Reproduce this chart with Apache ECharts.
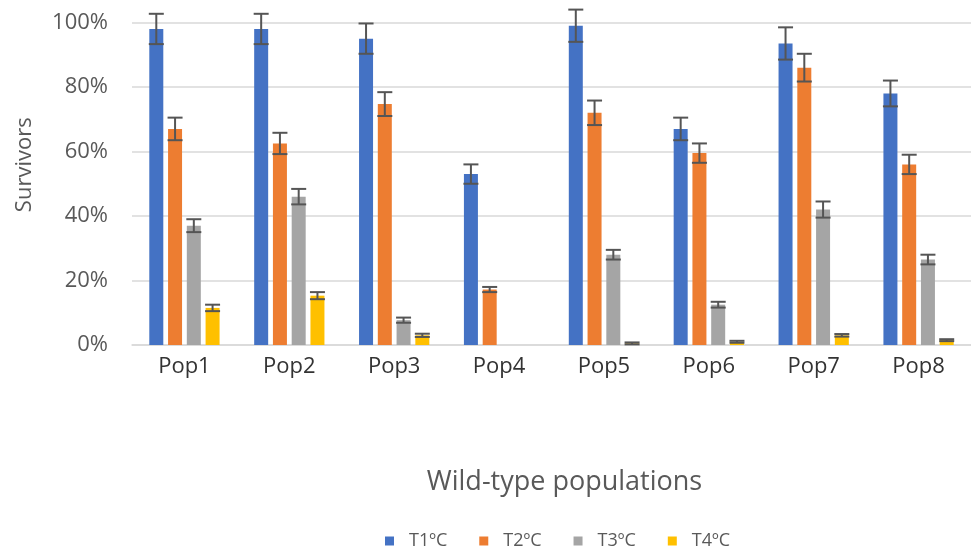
<!DOCTYPE html>
<html>
<head>
<meta charset="utf-8">
<script src="https://cdn.jsdelivr.net/npm/echarts/dist/echarts.min.js"></script>
<style>
  html, body { margin: 0; padding: 0; background: #ffffff; }
  #chart { width: 971px; height: 549px; }
</style>
</head>
<body>
<div id="chart"></div>
<script>
// Survival (%) of eight wild-type populations at four temperatures, with error bars
const populations = ['Pop1', 'Pop2', 'Pop3', 'Pop4', 'Pop5', 'Pop6', 'Pop7', 'Pop8'];
const seriesNames = ['T1ºC', 'T2ºC', 'T3ºC', 'T4ºC'];

const t1Values = [98, 98, 95, 53, 99, 67, 93.5, 78];
const t2Values = [67, 62.5, 74.7, 17.2, 72, 59.5, 86, 56];
const t3Values = [37, 46, 7.7, null, 28, 12.5, 42, 26.5];
const t4Values = [11.5, 15.3, 3, null, 0.5, 1, 3, 1.5];

const t1Errors = [4.7, 4.7, 4.7, 3, 5, 3.5, 5, 4];
const t2Errors = [3.5, 3.3, 3.7, 0.8, 3.8, 3, 4.3, 3];
const t3Errors = [2, 2.4, 0.8, null, 1.5, 0.9, 2.5, 1.5];
const t4Errors = [1, 1.1, 0.5, null, 0.3, 0.3, 0.4, 0.3];

const yTicks = [0, 20, 40, 60, 80, 100];

const colors = ['#4472C4', '#ED7D31', '#A5A5A5', '#FFC000'];
const allValues = [t1Values, t2Values, t3Values, t4Values];
const allErrors = [t1Errors, t2Errors, t3Errors, t4Errors];

const BAR_WIDTH = 14;
const BAR_GAP = 0.34;
const FONT = '"Open Sans", "Noto Sans", sans-serif';

const barSeries = seriesNames.map((name, i) => ({
  name: name,
  type: 'bar',
  data: allValues[i],
  barWidth: BAR_WIDTH,
  barGap: (BAR_GAP * 100) + '%',
  itemStyle: { color: colors[i] },
  z: 2
}));

// Whisker series: one I-beam per bar, shifted to its bar's slot in the group
const errorSeries = seriesNames.map((name, i) => ({
  name: name + ' error',
  type: 'custom',
  z: 5,
  silent: true,
  encode: { x: 0, y: 1 },
  data: populations.map((p, j) =>
    (allValues[i][j] == null || allErrors[i][j] == null) ? null : [j, allValues[i][j], allErrors[i][j]]
  ).filter(d => d !== null),
  renderItem: function (params, api) {
    const idx = api.value(0);
    const mean = api.value(1);
    const err = api.value(2);
    const step = BAR_WIDTH * (1 + BAR_GAP);
    const offset = (i - (seriesNames.length - 1) / 2) * step;
    const hi = api.coord([idx, mean + err]);
    const lo = api.coord([idx, mean - err]);
    const x = hi[0] + offset;
    const half = 7.5;
    const style = { stroke: '#555555', lineWidth: 2, fill: null };
    return {
      type: 'group',
      children: [
        { type: 'line', shape: { x1: x, y1: hi[1], x2: x, y2: lo[1] }, style: style },
        { type: 'line', shape: { x1: x - half, y1: hi[1], x2: x + half, y2: hi[1] }, style: style },
        { type: 'line', shape: { x1: x - half, y1: lo[1], x2: x + half, y2: lo[1] }, style: style }
      ]
    };
  }
}));

const chart = echarts.init(document.getElementById('chart'), null, { renderer: 'canvas' });

chart.setOption({
  animation: false,
  backgroundColor: '#ffffff',
  textStyle: { fontFamily: FONT },
  grid: { left: 132, right: -11, top: 22.5, bottom: 204, containLabel: false },
  legend: {
    data: seriesNames,
    left: 380,
    top: 527,
    itemWidth: 9,
    itemHeight: 9,
    itemGap: 32,
    icon: 'rect',
    textStyle: { fontFamily: FONT, fontSize: 18, color: '#595959', padding: [0, 0, 0, 10] }
  },
  xAxis: {
    type: 'category',
    data: populations,
    name: 'Wild-type populations',
    nameLocation: 'middle',
    nameGap: 124,
    nameTextStyle: { fontFamily: FONT, fontSize: 27, color: '#595959', padding: [0, 0, 0, 26] },
    axisLine: { lineStyle: { color: '#d9d9d9', width: 1.5 } },
    axisTick: { show: false },
    axisLabel: { fontFamily: FONT, fontSize: 22, color: '#333333', margin: 11 }
  },
  yAxis: {
    type: 'value',
    min: yTicks[0],
    max: yTicks[yTicks.length - 1],
    interval: yTicks[1] - yTicks[0],
    name: 'Survivors',
    nameLocation: 'middle',
    nameGap: 96,
    nameRotate: 90,
    nameTextStyle: { fontFamily: FONT, fontSize: 22, color: '#595959', padding: [0, 0, 0, 38] },
    axisLine: { show: false },
    axisTick: { show: false },
    splitLine: { lineStyle: { color: '#d9d9d9', width: 1.5 } },
    axisLabel: { fontFamily: FONT, fontSize: 22, color: '#595959', margin: 24, formatter: '{value}%' }
  },
  series: barSeries.concat(errorSeries)
});
</script>
</body>
</html>
